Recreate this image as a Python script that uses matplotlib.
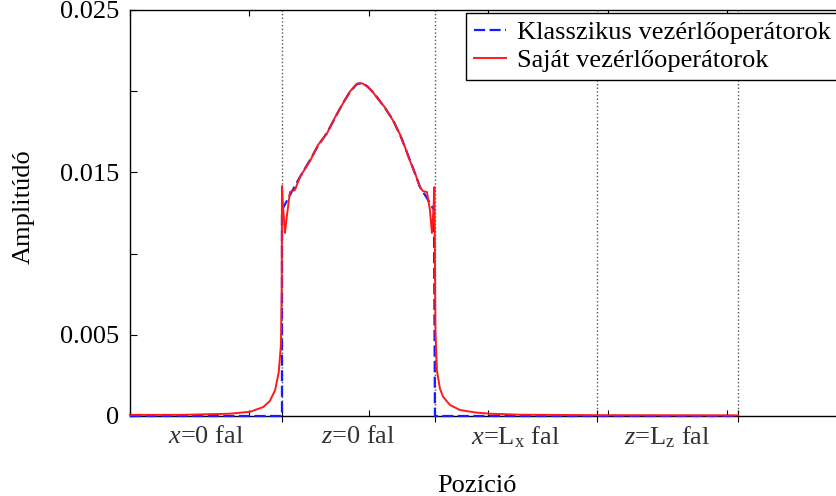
import matplotlib.pyplot as plt

plt.rcParams['font.family'] = ['Liberation Serif', 'DejaVu Serif']
plt.rcParams['mathtext.fontset'] = 'custom'
plt.rcParams['mathtext.rm'] = 'Liberation Serif'
plt.rcParams['mathtext.it'] = 'Liberation Serif:italic'
plt.rcParams['font.size'] = 19

# wall boundaries along the unrolled position axis
walls = [25.44, 51.05, 78.16, 101.76]
wall_labels = [r'$x$=0 fal', r'$z$=0 fal', r'$x$=L$_\mathrm{x}$ fal', r'$z$=L$_\mathrm{z}$ fal']

# classic controllers (blue dashed)
blue_x = [0, 25.44, 25.44, 26.78, 28.45, 30.13, 31.46, 32.97, 34.31, 35.65, 36.82, 37.99, 38.83,
          39.67, 40.50, 41.34, 42.68, 44.02, 45.36, 46.86, 47.87, 48.54, 49.71, 50.88, 51.05, 101.76]
blue_y = [0, 0, 0.01268, 0.01361, 0.01472, 0.01576, 0.01663, 0.01743, 0.01835, 0.01927, 0.01995,
          0.02044, 0.0205, 0.02032, 0.02001, 0.01964, 0.01897, 0.01823, 0.01718, 0.01576, 0.01478,
          0.0141, 0.01342, 0.01268, 0, 0]

# own controllers (red)
red_x = [0, 8.37, 16.7, 20.1, 22.3, 23.4, 24.3, 24.9, 25.27, 25.40, 25.44, 25.6, 25.94, 26.28,
         26.78, 27.62, 28.45, 30.13, 31.46, 32.97, 34.31, 35.65, 36.82, 37.99, 38.83, 39.67, 40.50,
         41.34, 42.68, 44.02, 45.36, 46.86, 47.87, 48.54, 49.04, 49.71, 50.21, 50.54, 50.80, 50.96,
         51.13, 51.38, 51.88, 52.38, 53.56, 55.23, 57.74, 60.25, 65.27, 78.16, 101.76]
red_y = [0.00007, 0.00007, 0.00014, 0.00026, 0.00055, 0.00092, 0.0016, 0.0027, 0.0044, 0.0080,
         0.01416, 0.0130, 0.01127, 0.01238, 0.01379, 0.01392, 0.01472, 0.01570, 0.01668, 0.01740,
         0.01838, 0.01925, 0.01998, 0.02046, 0.02049, 0.02030, 0.02003, 0.01960, 0.01900, 0.01820,
         0.01722, 0.01572, 0.01480, 0.0141, 0.01385, 0.01379, 0.01268, 0.01127, 0.0127, 0.0141,
         0.0053, 0.0028, 0.0017, 0.0012, 0.00068, 0.00037, 0.00022, 0.00014, 0.00008, 0.00005, 0.00004]

yticks = [0, 0.005, 0.01, 0.015, 0.02, 0.025]
ytick_labels = ['0', '0.005', '', '0.015', '', '0.025']

fig = plt.figure(figsize=(8.37, 4.96), dpi=100)
ax = fig.add_axes([130/837, 1 - 416/496, 724/837, 406/496])

for w in walls:
    ax.axvline(w, color='#555555', linestyle=':', linewidth=1.0, zorder=1)

ax.plot(blue_x, blue_y, color='#1a1aff', linestyle='--', dashes=(5, 2), linewidth=1.6,
        label='Klasszikus vezérlőoperátorok', zorder=3, clip_on=False)
ax.plot(red_x, red_y, color='#ff1a1a', linewidth=1.4, label='Saját vezérlőoperátorok',
        zorder=4, clip_on=False)

ax.set_xlim(0, 121.2)
ax.set_ylim(0, 0.025)
ax.set_yticks(yticks)
ax.set_yticklabels(ytick_labels)
ax.set_xticks(range(0, 121, 20))
ax.set_xticklabels([])
ax.set_xticks(walls, minor=True)
ax.tick_params(axis='x', which='major', direction='in', top=True, length=4.5, width=0.8)
ax.tick_params(axis='x', which='minor', direction='inout', top=False, length=9, width=0.8)
ax.tick_params(axis='y', direction='in', length=5, width=0.8, pad=8)

for s in ax.spines.values():
    s.set_linewidth(1.0)

edges = [0] + walls
for i, lab in enumerate(wall_labels):
    xc = (edges[i] + edges[i + 1]) / 2
    ax.text(xc, -0.052, lab, transform=ax.get_xaxis_transform(), ha='center', va='center',
            color='#333333')

ax.set_xlabel('Pozíció')
ax.xaxis.set_label_coords(0.479, -0.145)
ax.set_ylabel('Amplitúdó')
ax.yaxis.set_label_coords(-0.132, 0.515)

leg = ax.legend(loc='upper left', bbox_to_anchor=(466/837, 1 - 13/496),
                bbox_transform=fig.transFigure, fancybox=False, edgecolor='black',
                framealpha=1, handlelength=1.2, handletextpad=0.45, labelspacing=0.15,
                borderpad=0.3, borderaxespad=0)
leg.get_frame().set_linewidth(1.0)

fig.savefig('out.png', dpi=100)
